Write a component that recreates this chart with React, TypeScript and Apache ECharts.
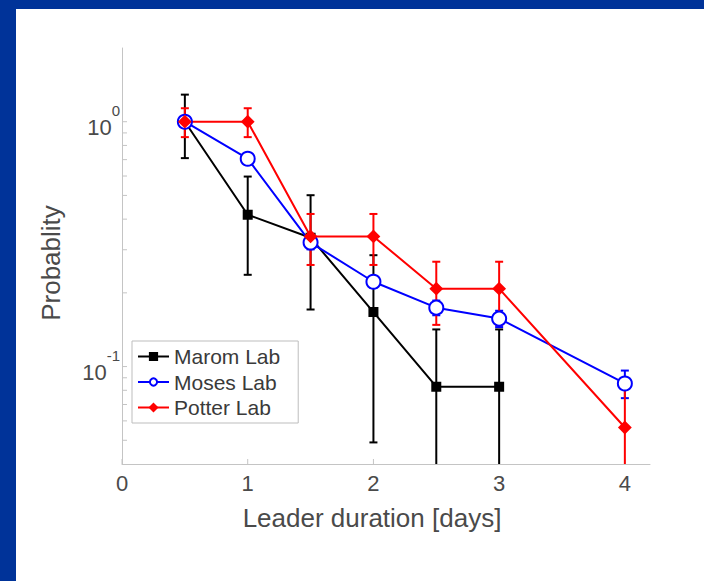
import React, { useEffect, useRef } from "react";
import * as echarts from "echarts";

const xValues = [0.5, 1, 1.5, 2, 2.5, 3, 4];
const maromValues = [1.0, 0.417, 0.336, 0.167, 0.0828, 0.0828];
const maromErrors = [0.29, 0.18, 0.165, 0.118, 0.059, 0.059];
const mosesValues = [1.0, 0.706, 0.321, 0.222, 0.174, 0.157, 0.0853];
const mosesErrors = [0.03, 0.02, 0.02, 0.012, 0.012, 0.012, 0.011];
const potterValues = [1.0, 1.0, 0.34, 0.34, 0.208, 0.208, 0.0564];
const potterErrors = [0.135, 0.135, 0.08, 0.08, 0.06, 0.06, 0.03];

const xTicks = [0, 1, 2, 3, 4];
const yTicks = [0.05, 0.06, 0.07, 0.08, 0.09, 0.1, 0.2, 0.3, 0.4, 0.5, 0.6, 0.7, 0.8, 0.9, 1];

const X_MIN = 0;
const X_MAX = 4.2;
const Y_MIN = 0.04;
const Y_MAX = 2;

const FONT = "'Liberation Sans', Arial, Helvetica, sans-serif";
const TEXT = "#4a4a4a";
const AXIS = "#c4c4c4";

function pairs(values: number[]) {
  return values.map((v, i) => [xValues[i], v]);
}
function triples(values: number[], errs: number[]) {
  return values.map((v, i) => [xValues[i], v, errs[i]]);
}

function errorSeries(values: number[], errs: number[], color: string) {
  return {
    type: "custom",
    silent: true,
    clip: true,
    data: triples(values, errs),
    encode: { x: 0, y: 1 },
    renderItem: (_params: any, api: any) => {
      const x = api.value(0);
      const v = api.value(1);
      const e = api.value(2);
      const top = api.coord([x, v + e]);
      const bot = api.coord([x, v - e]);
      const hw = 4;
      const style = { stroke: color, lineWidth: 2 };
      return {
        type: "group",
        children: [
          { type: "line", shape: { x1: top[0], y1: top[1], x2: bot[0], y2: bot[1] }, style },
          { type: "line", shape: { x1: top[0] - hw, y1: top[1], x2: top[0] + hw, y2: top[1] }, style },
          { type: "line", shape: { x1: bot[0] - hw, y1: bot[1], x2: bot[0] + hw, y2: bot[1] }, style },
        ],
      };
    },
  };
}

function lineSeries(name: string, values: number[], color: string, symbol: string, size: number) {
  return {
    type: "line",
    name,
    data: pairs(values),
    symbol,
    symbolSize: size,
    lineStyle: { color, width: 2 },
    itemStyle: { color, borderColor: color, borderWidth: 2 },
  };
}

export default function App() {
  const ref = useRef<HTMLDivElement>(null);
  useEffect(() => {
    if (!ref.current) return;
    const chart = echarts.init(ref.current, undefined, { renderer: "svg" });
    const option: any = {
      animation: false,
      grid: { left: 122, right: 54, top: 48, bottom: 117, containLabel: false },
      xAxis: {
        type: "value",
        min: X_MIN,
        max: X_MAX,
        interval: 1,
        axisLine: { show: true, lineStyle: { color: AXIS, width: 1 } },
        axisTick: { show: false },
        splitLine: { show: false },
        axisLabel: {
          margin: 8,
          fontSize: 22,
          fontFamily: FONT,
          color: TEXT,
          formatter: (v: number) => (Math.abs(v - Math.round(v)) < 1e-9 && v <= 4 ? String(Math.round(v)) : ""),
        },
      },
      yAxis: {
        type: "log",
        logBase: 10,
        min: Y_MIN,
        max: Y_MAX,
        axisLine: { show: true, lineStyle: { color: AXIS, width: 1 } },
        axisTick: { show: false },
        splitLine: { show: false },
        axisLabel: {
          margin: 2,
          padding: [0, 0, 22, 0],
          color: TEXT,
          fontFamily: FONT,
          formatter: (v: number) => {
            const e = Math.log10(v);
            if (Math.abs(e - Math.round(e)) < 1e-6) return `{b|10}{s|${Math.round(e)}}`;
            return "";
          },
          rich: {
            b: { fontSize: 22, lineHeight: 22, fontFamily: FONT, color: TEXT, verticalAlign: "bottom" },
            s: { fontSize: 15, lineHeight: 56, fontFamily: FONT, color: TEXT },
          },
        },
      },
      legend: {
        orient: "vertical",
        left: 132,
        top: 341,
        padding: [5, 18, 5, 5],
        itemGap: 4.5,
        itemWidth: 31,
        itemHeight: 9,
        borderColor: "#bdbdbd",
        borderWidth: 1,
        backgroundColor: "#ffffff",
        textStyle: { fontSize: 21, fontFamily: FONT, color: "#3a3a3a" },
        data: ["Marom Lab", "Moses Lab", "Potter Lab"],
      },
      graphic: [
        {
          type: "text",
          x: 372,
          y: 518,
          style: {
            text: "Leader duration [days]",
            fontSize: 26,
            fontFamily: FONT,
            fill: TEXT,
            align: "center",
            verticalAlign: "middle",
          },
        },
        {
          type: "text",
          x: 51,
          y: 263,
          rotation: Math.PI / 2,
          style: {
            text: "Probablity",
            fontSize: 26,
            fontFamily: FONT,
            fill: TEXT,
            align: "center",
            verticalAlign: "middle",
          },
        },
      ],
      series: [
        {
          type: "custom",
          silent: true,
          clip: false,
          data: xTicks.map((x) => [x, Y_MIN]),
          encode: { x: 0, y: 1 },
          renderItem: (_p: any, api: any) => {
            const c = api.coord([api.value(0), api.value(1)]);
            return { type: "line", shape: { x1: c[0], y1: c[1], x2: c[0], y2: c[1] - 5 }, style: { stroke: AXIS, lineWidth: 1 } };
          },
        },
        {
          type: "custom",
          silent: true,
          clip: false,
          data: yTicks.map((y) => [X_MIN, y]),
          encode: { x: 0, y: 1 },
          renderItem: (_p: any, api: any) => {
            const c = api.coord([api.value(0), api.value(1)]);
            return { type: "line", shape: { x1: c[0], y1: c[1], x2: c[0] + 5, y2: c[1] }, style: { stroke: AXIS, lineWidth: 1 } };
          },
        },
        errorSeries(maromValues, maromErrors, "#000000"),
        lineSeries("Marom Lab", maromValues, "#000000", "rect", 8),
        errorSeries(mosesValues, mosesErrors, "#0000ff"),
        lineSeries("Moses Lab", mosesValues, "#0000ff", "emptyCircle", 14),
        errorSeries(potterValues, potterErrors, "#ff0000"),
        lineSeries("Potter Lab", potterValues, "#ff0000", "diamond", 11),
      ],
    };
    chart.setOption(option);
    return () => chart.dispose();
  }, []);

  return (
    <div style={{ position: "fixed", left: 0, top: 0, width: 704, height: 581, background: "#003399", overflow: "hidden" }}>
      <div style={{ position: "absolute", left: 16, top: 9, right: 0, bottom: 0, background: "#ffffff" }} />
      <div ref={ref} style={{ position: "absolute", left: 0, top: 0, width: 704, height: 581 }} />
    </div>
  );
}
